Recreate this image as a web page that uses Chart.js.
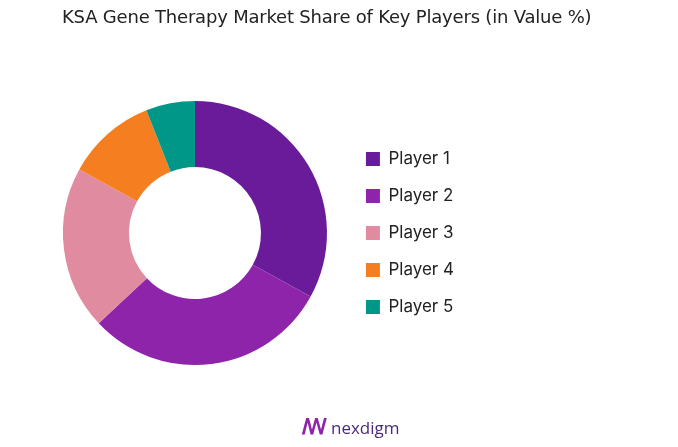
<!DOCTYPE html>
<html><head><meta charset="utf-8">
<script src="https://cdn.jsdelivr.net/npm/chart.js@4"></script>
<style>html,body{margin:0;padding:0;background:#fff;}#wrap{position:relative;width:678px;height:447px;}
#title{position:absolute;left:62px;top:6px;font:18px "DejaVu Sans",sans-serif;color:#222;letter-spacing:-0.2px;}
#logo{position:absolute;left:302px;top:410px;font:500 17px "Open Sans",sans-serif;color:#4a2a7a;}
#logo b{color:#8E24AA;font-size:22px;margin-right:4px;}</style>
</head><body><div id="wrap"><canvas id="c" width="678" height="447"></canvas>
<div id="title">KSA Gene Therapy Market Share of Key Players (in Value %)</div>
<div id="logo"><b>ꟿ</b>nexdigm</div></div>
<script>
const categories = ["Player 1","Player 2","Player 3","Player 4","Player 5"];
const shares = [33, 30, 20, 11, 6];
const colors = ["#6A1B9A","#8E24AA","#E08BA0","#F57F20","#009688"];
new Chart(document.getElementById('c'), {
  type: 'doughnut',
  data: { labels: categories, datasets: [{ data: shares, backgroundColor: colors, borderWidth: 0 }] },
  options: {
    responsive: false, animation: false, cutout: '50%',
    layout: { padding: { left: 44, right: 214, top: 101, bottom: 82 } },
    plugins: {
      legend: { position: 'right', labels: { boxWidth: 14, boxHeight: 14, padding: 20, color: '#222',
        font: { family: 'Inter', size: 17 } } },
      tooltip: { enabled: false }
    }
  }
});
</script></body></html>
